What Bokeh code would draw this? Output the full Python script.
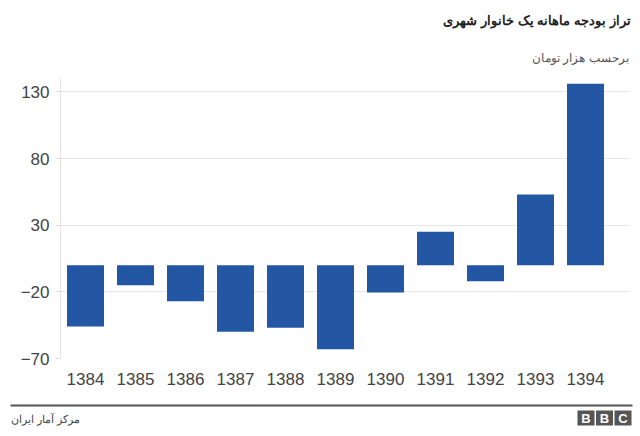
from bokeh.plotting import figure
from bokeh.models import FixedTicker, Range1d, ColumnDataSource
from bokeh.layouts import column
from bokeh.core.properties import value
from bokeh.embed import file_html
from bokeh.resources import INLINE

years = ["1384", "1385", "1386", "1387", "1388", "1389", "1390", "1391", "1392", "1393", "1394"]
values = [-46, -15, -27, -50, -47, -63, -20.5, 25, -12, 53, 136]
y_ticks = [-70, -20, 30, 80, 130]

title = "تراز بودجه ماهانه یک خانوار شهری"
subtitle = "برحسب هزار تومان"
source = "مرکز آمار ایران"

FONT = "Liberation Sans"
W = 640


def blank(h):
    f = figure(width=W, height=h, output_backend="svg", toolbar_location=None,
               x_range=Range1d(0, W), y_range=Range1d(h, 0),
               x_axis_type=None, y_axis_type=None,
               min_border=0, min_border_left=0, min_border_right=0,
               min_border_top=0, min_border_bottom=0, frame_align=False)
    f.outline_line_color = None
    f.xgrid.visible = False
    f.ygrid.visible = False
    f.border_fill_color = "white"
    f.background_fill_color = "white"
    return f


# header
head = blank(78)
head.text(x=[630], y=[20], text=[title], text_align="right", text_baseline="middle",
          text_font=value(FONT), text_font_size="13px", text_font_style="bold",
          text_color="#222222")
head.text(x=[628], y=[57], text=[subtitle], text_align="right", text_baseline="middle",
          text_font=value(FONT), text_font_size="12px", text_color="#555555")

# main chart
xs = list(range(len(years)))
src = ColumnDataSource(dict(x=xs, top=values, bottom=[0] * len(values)))

p = figure(width=W, height=317, output_backend="svg", toolbar_location=None,
           x_range=Range1d(-0.5, 10.9), y_range=Range1d(-70, 140),
           min_border_left=60, min_border_right=10, min_border_top=0, min_border_bottom=37,
           frame_align=False)
p.outline_line_color = None
p.background_fill_color = "white"
p.border_fill_color = "white"

p.vbar(x="x", top="top", bottom="bottom", width=0.74, source=src,
       fill_color="#2357A3", line_color=None)

p.xgrid.grid_line_color = None
p.ygrid.grid_line_color = "#e6e6e6"
p.yaxis.ticker = FixedTicker(ticks=y_ticks)
p.yaxis.axis_line_color = "#e4e4e4"
p.yaxis.major_tick_line_color = "#dddddd"
p.yaxis.major_tick_out = 5
p.yaxis.major_tick_in = 0
p.yaxis.minor_tick_line_color = None
p.yaxis.major_label_text_font = FONT
p.yaxis.major_label_text_font_size = "17px"
p.yaxis.major_label_text_color = "#444444"
p.yaxis.major_label_standoff = 6

p.xaxis.ticker = FixedTicker(ticks=xs)
p.xaxis.major_label_overrides = {i: y for i, y in enumerate(years)}
p.xaxis.axis_line_color = None
p.xaxis.major_tick_line_color = None
p.xaxis.minor_tick_line_color = None
p.xaxis.major_label_text_font = FONT
p.xaxis.major_label_text_font_size = "17px"
p.xaxis.major_label_text_color = "#444444"
p.xaxis.major_label_standoff = 8

# footer
foot = blank(41)
foot.quad(left=[10], right=[632], top=[9], bottom=[11], fill_color="#555555", line_color=None)
foot.text(x=[10], y=[23], text=[source], text_align="left", text_baseline="middle",
          text_font=value(FONT), text_font_size="11px", text_color="#444444")
bl = [577, 595.5, 614]
foot.quad(left=bl, right=[b + 17 for b in bl], top=[15] * 3, bottom=[30] * 3,
          fill_color="#555555", line_color=None)
foot.text(x=[b + 8.5 for b in bl], y=[22.5] * 3, text=list("BBC"), text_align="center",
          text_baseline="middle", text_font=value(FONT), text_font_size="13px",
          text_font_style="bold", text_color="white")

layout = column(head, p, foot, spacing=0)
open("out.html", "w").write(file_html(layout, INLINE))
